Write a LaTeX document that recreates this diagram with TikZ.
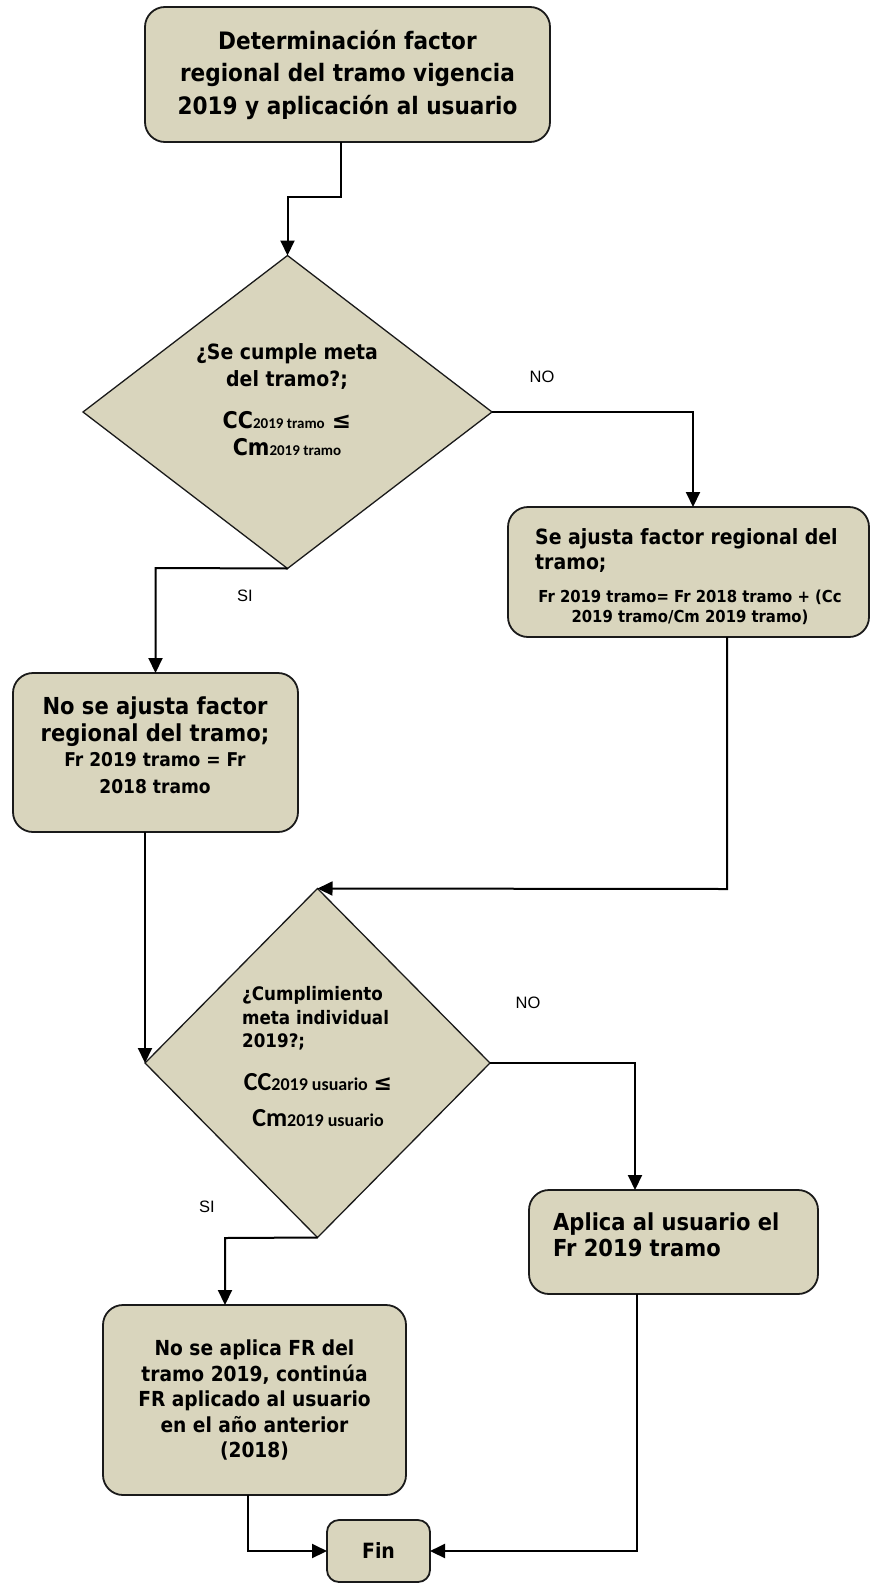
\documentclass[tikz,border=0pt]{standalone}
\usepackage{fontspec}
\setmainfont{DejaVu Sans Condensed}
\newfontfamily\calib{Carlito}
\newfontfamily\labfont{Liberation Sans}
\newfontfamily\symfont{DejaVu Sans}
\usetikzlibrary{arrows.meta,shapes.geometric}
\definecolor{boxfill}{HTML}{D9D5BD}
\definecolor{edge}{HTML}{1A1A1A}
\tikzset{
  box/.style={draw=edge, line width=1.8pt, fill=boxfill, rounded corners=20pt, inner sep=0pt, outer sep=0pt},
  decision/.style={draw=edge, line width=1.3pt, fill=boxfill, shape=diamond, inner sep=0pt, outer sep=0pt},
  txt/.style={font=\bfseries, inner sep=0pt},
  lab/.style={font=\labfont\fontsize{16.5}{18}\selectfont, inner sep=0pt},
  arr/.style={draw=black, line width=2pt, -{Triangle[length=15pt,width=14pt]}},
  con/.style={draw=black, line width=2pt}
}
\newcommand{\sub}[1]{{\calib\bfseries\fontsize{15}{15}\selectfont #1}}
\newcommand{\subb}[1]{{\calib\bfseries\fontsize{18}{18}\selectfont #1}}
\begin{document}
\begin{tikzpicture}[x=1pt,y=-1pt]
\useasboundingbox (0,0) rectangle (870,1584);

% boxes
\node[box, minimum width=405pt, minimum height=135pt, align=center,
  font=\bfseries\fontsize{24}{32.5}\selectfont] (top) at (347.5,74.5)
  {Determinación factor\\regional del tramo vigencia\\2019 y aplicación al usuario};

\node[decision, minimum width=409pt, minimum height=313pt] (d1) at (287.5,412) {};
\node[txt, align=center, font=\bfseries\fontsize{21}{27}\selectfont] (q1) at (287,366.5)
  {¿Se cumple meta\\del tramo?;};
\node[txt, align=center, font=\bfseries\fontsize{23}{27}\selectfont] (f1) at (287,433.5)
  {CC\sub{2019 tramo} {\symfont ≤}\\Cm\sub{2019 tramo}};

\node[box, minimum width=361pt, minimum height=130pt] (b1) at (688.5,572) {};
\node[txt, anchor=west, align=left, font=\bfseries\fontsize{21}{25}\selectfont] (b1t) at (535,550.5)
  {Se ajusta factor regional del\\tramo;};
\node[txt, align=center, font=\bfseries\fontsize{16.5}{20}\selectfont] (b1s) at (690,607)
  {Fr 2019 tramo= Fr 2018 tramo + (Cc\\2019 tramo/Cm 2019 tramo)};

\node[box, minimum width=285pt, minimum height=159pt] (b2) at (155.5,752.5) {};
\node[txt, align=center, font=\bfseries\fontsize{23.4}{27}\selectfont] (b2t) at (155,721.5)
  {No se ajusta factor\\regional del tramo;};
\node[txt, align=center, font=\bfseries\fontsize{19}{27}\selectfont] (b2s) at (155,773.5)
  {Fr 2019 tramo = Fr\\2018 tramo};

\node[decision, minimum width=345pt, minimum height=349pt] (d2) at (317.5,1063) {};
\node[txt, anchor=west, align=left, font=\bfseries\fontsize{18.6}{23.5}\selectfont] (q2) at (242,1018.5)
  {¿Cumplimiento\\meta individual\\2019?;};
\node[txt, align=center, font=\calib\bfseries\fontsize{26}{36}\selectfont] (f2) at (318,1100)
  {CC\subb{2019 usuario} {\symfont\bfseries\fontsize{22}{22}\selectfont ≤}\\Cm\subb{2019 usuario}};

\node[box, minimum width=289pt, minimum height=104pt] (b3) at (673.5,1242) {};
\node[txt, anchor=west, align=left, font=\bfseries\fontsize{23.4}{26}\selectfont] (b3t) at (553,1235)
  {Aplica al usuario el\\Fr 2019 tramo};

\node[box, minimum width=303pt, minimum height=190pt, align=center,
  font=\bfseries\fontsize{20.7}{25.5}\selectfont] (b4) at (254.5,1400)
  {No se aplica FR del\\tramo 2019, continúa\\FR aplicado al usuario\\en el año anterior\\(2018)};

\node[box, rounded corners=12pt, minimum width=103pt, minimum height=62pt,
  font=\bfseries\fontsize{21}{24}\selectfont] (fin) at (378.5,1551) {Fin};

% labels
\node[lab] (no1) at (542,377) {NO};
\node[lab] (si1) at (245,596) {SI};
\node[lab] (no2) at (528,1003) {NO};
\node[lab] (si2) at (207,1207) {SI};

% connectors
\coordinate (c1a) at (341,142);
\draw[arr] (c1a) -- (341,197) -- (287.5,197) -- (d1.north);
\draw[arr] (d1.east) -- (693,412) -- (693,507);
\draw[arr] (d1.south) -- (155.5,568) -- (b2.north);
\coordinate (c2a) at (727,637);
\draw[arr] (c2a) -- (727,889) -- (d2.north);
\coordinate (c3a) at (145,832);
\draw[arr] (c3a) -- (d2.west);
\draw[arr] (d2.east) -- (635,1063) -- (635,1190);
\draw[arr] (d2.south) -- (225,1238) -- (225,1305);
\coordinate (c4a) at (248,1495);
\draw[arr] (c4a) -- (248,1551) -- (fin.west);
\coordinate (c5a) at (637,1294);
\draw[arr] (c5a) -- (637,1551) -- (fin.east);
\end{tikzpicture}
\end{document}
